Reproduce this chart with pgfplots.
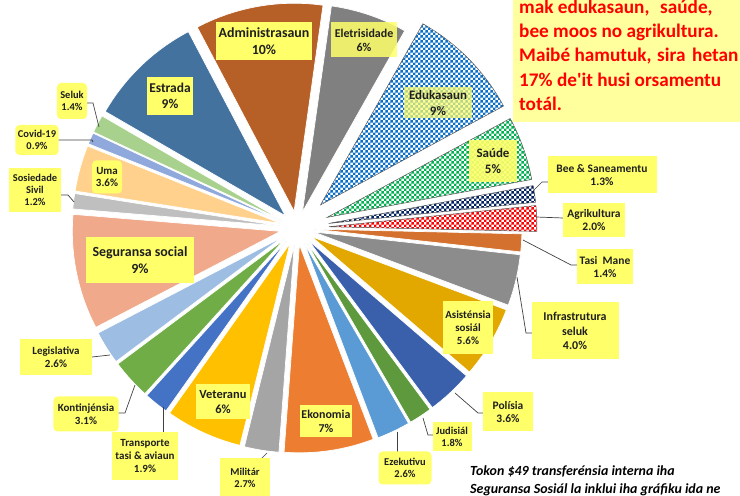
\documentclass[border=0pt]{standalone}
\usepackage{fontspec}
\setmainfont{Carlito}
\usepackage{pgfplots}
\pgfplotsset{compat=1.18}
\usetikzlibrary{patterns}

\definecolor{cEle}{HTML}{808080}
\definecolor{cEdu}{HTML}{0A6FC8}
\definecolor{cSau}{HTML}{00B050}
\definecolor{cBee}{HTML}{002060}
\definecolor{cAgr}{HTML}{FF0000}
\definecolor{cTas}{HTML}{D4712E}
\definecolor{cInf}{HTML}{8C8C8C}
\definecolor{cAsi}{HTML}{E2A800}
\definecolor{cPol}{HTML}{3A60AC}
\definecolor{cJud}{HTML}{5F993D}
\definecolor{cEze}{HTML}{5B9BD5}
\definecolor{cEko}{HTML}{ED7D31}
\definecolor{cMil}{HTML}{A5A5A5}
\definecolor{cVet}{HTML}{FFC000}
\definecolor{cTra}{HTML}{4472C4}
\definecolor{cKon}{HTML}{70AD47}
\definecolor{cLeg}{HTML}{9DBDE2}
\definecolor{cSeg}{HTML}{F0A98B}
\definecolor{cSos}{HTML}{BFBFBF}
\definecolor{cUma}{HTML}{FFD18C}
\definecolor{cCov}{HTML}{8FA9DC}
\definecolor{cSel}{HTML}{A9D18E}
\definecolor{cEst}{HTML}{43729F}
\definecolor{cAdm}{HTML}{B65F26}
\definecolor{labY}{HTML}{FFFF6A}
\definecolor{boxY}{HTML}{FFFF9E}
\definecolor{lead}{HTML}{404040}

\pgfdeclarepatternformonly{chk}{\pgfpoint{0bp}{0bp}}{\pgfpoint{5.4bp}{5.4bp}}{\pgfpoint{5.4bp}{5.4bp}}{%
  \pgfpathrectangle{\pgfpoint{0bp}{0bp}}{\pgfpoint{2.7bp}{2.7bp}}%
  \pgfpathrectangle{\pgfpoint{2.7bp}{2.7bp}}{\pgfpoint{2.7bp}{2.7bp}}%
  \pgfusepath{fill}}

% ---- pie slices: value (percent), style, explode (bp)
\def\piecum{0}
\def\pietotal{100.7}
\def\pieoff{8}
\pgfmathsetmacro\pieK{360/\pietotal}
\def\allslices{}
\newcommand\slice[3]{%
  \pgfmathsetmacro\phia{90-\pieoff-\pieK*\piecum}%
  \pgfmathsetmacro\phib{\phia-\pieK*#1}%
  \pgfmathsetmacro\phim{(\phia+\phib)/2}%
  \xdef\allslices{\unexpanded\expandafter{\allslices}\noexpand\path[#2] (axis cs:297,-228) ++(\phim:#3bp) -- ++(\phia:208bp) arc[start angle=\phia, end angle=\phib, radius=208bp] -- cycle;}%
  \pgfmathsetmacro\newcum{\piecum+#1}%
  \global\let\piecum\newcum}
\newcommand\pslice[3]{\slice{#1}{fill=#2, draw=white, line width=0.7bp}{#3}}
\newcommand\cslice[3]{\slice{#1}{preaction={fill=white}, pattern=chk, pattern color=#2, draw=gray!70!black, line width=0.5bp}{#3}}

\pslice{6}{cEle}{17}%   Eletrisidade
\cslice{9}{cEdu}{33}%  Edukasaun
\cslice{5}{cSau}{32}%  Saude
\cslice{1.3}{cBee}{32}% Bee
\cslice{2.0}{cAgr}{32}% Agrikultura
\pslice{1.4}{cTas}{17}% Tasi Mane
\pslice{4.0}{cInf}{17}% Infrastrutura seluk
\pslice{5.6}{cAsi}{17}% Asistensia
\pslice{3.6}{cPol}{17}% Polisia
\pslice{1.8}{cJud}{17}% Judisial
\pslice{2.6}{cEze}{17}% Ezekutivu
\pslice{7}{cEko}{17}%   Ekonomia
\pslice{2.7}{cMil}{17}% Militar
\pslice{6}{cVet}{17}%   Veteranu
\pslice{1.9}{cTra}{17}% Transporte
\pslice{3.1}{cKon}{17}% Kontinjensia
\pslice{2.6}{cLeg}{17}% Legislativa
\pslice{9}{cSeg}{17}%   Seguransa social
\pslice{1.2}{cSos}{17}% Sosiedade Sivil
\pslice{3.6}{cUma}{17}% Uma
\pslice{0.9}{cCov}{17}% Covid-19
\pslice{1.4}{cSel}{17}% Seluk
\pslice{9}{cEst}{17}%   Estrada
\pslice{10}{cAdm}{17}%  Administrasaun

\tikzset{lab/.style={fill=labY, align=center, inner sep=0pt, text=black!88}}
% \lbl[opts]{x}{y}{w}{h}{size}{text}
\newcommand\lbl[7][]{\node[lab, minimum width=#4bp, minimum height=#5bp, font={\bfseries\fontsize{#6}{#6}\selectfont\baselineskip=1.18\baselineskip}, #1] at (axis cs:#2,-#3) {#7};}

\begin{document}
\begin{tikzpicture}
\useasboundingbox (0,0) rectangle (740bp,496bp);
\clip (0,0) rectangle (740bp,496bp);
\begin{axis}[at={(0,0)}, anchor=south west, scale only axis, width=740bp, height=496bp,
  xmin=0, xmax=740, ymin=-496, ymax=0, axis lines=none, clip=false]
\allslices

% leader lines
\draw[lead, line width=0.7bp] (533,-191) -- (542,-182) -- (548,-182);
\draw[lead, line width=0.7bp] (536,-217) -- (563,-218);
\draw[lead, line width=0.7bp] (523,-240) -- (571,-265) -- (577,-265);
\draw[lead, line width=0.7bp] (517,-277) -- (526,-333) -- (532,-333);
\draw[lead, line width=0.7bp] (455,-393) -- (478,-413) -- (483,-413);
\draw[lead, line width=0.7bp] (423,-418) -- (428,-435) -- (433,-435);
\draw[lead, line width=0.7bp] (397,-432) -- (397,-452);
\draw[lead, line width=0.7bp] (267,-453) -- (260,-460);
\draw[lead, line width=0.7bp] (163,-407) -- (163,-432);
\draw[lead, line width=0.7bp] (135,-385) -- (125,-413) -- (118,-413);
\draw[lead, line width=0.7bp] (92,-357) -- (110,-355);
\draw[lead, line width=0.7bp] (61,-195) -- (68,-195) -- (74,-202);
\draw[lead, line width=0.7bp] (58,-140) -- (92,-140) -- (93,-142);
\draw[lead, line width=0.7bp] (87,-103) -- (93,-103) -- (99,-127);

% labels
\lbl{264}{41}{95}{38}{14}{Administrasaun\\10\%}
\lbl[fill opacity=0.85, text opacity=1]{364}{40}{66}{35}{12}{Eletrisidade\\6\%}
\lbl[fill opacity=0.7, text opacity=1]{438}{103}{68}{31}{13}{Edukasaun\\9\%}
\lbl[fill opacity=0.9, text opacity=1]{493}{161}{48}{42}{13}{Saúde\\5\%}
\lbl{602}{175}{109}{37}{11.5}{Bee \& Saneamentu\\1.3\%}
\lbl{594}{220}{62}{34}{11.5}{Agrikultura\\2.0\%}
\lbl{605}{267}{56}{35}{11.5}{Tasi~ Mane\\1.4\%}
\lbl{575}{331}{87}{57}{12}{Infrastrutura\\seluk\\4.0\%}
\lbl{468}{328}{50}{53}{11}{Asisténsia\\sosiál\\5.6\%}
\lbl{508}{412}{50}{39}{11.5}{Polísia\\3.6\%}
\lbl{452}{437}{39}{29}{10.5}{Judisiál\\1.8\%}
\lbl[rounded corners=4bp]{405}{468}{53}{33}{10.5}{Ezekutivu\\2.6\%}
\lbl{326}{421}{52}{32}{12}{Ekonomia\\7\%}
\lbl{245}{478}{50}{40}{10.5}{Militár\\2.7\%}
\lbl{223}{402}{53}{35}{12.5}{Veteranu\\6\%}
\lbl{145}{456}{66}{48}{11}{Transporte\\tasi \& aviaun\\1.9\%}
\lbl[rounded corners=4bp]{86}{414}{65}{35}{11}{Kontinjénsia\\3.1\%}
\lbl{56}{357}{72}{36}{11}{Legislativa\\2.6\%}
\lbl{140}{260}{107}{46}{14}{Seguransa social\\9\%}
\lbl{35}{190}{52}{44}{10.5}{Sosiedade\\Sivil\\1.2\%}
\lbl[rounded corners=4bp]{107}{177}{30}{33}{11}{Uma\\3.6\%}
\lbl[rounded corners=4bp]{37}{140}{43}{30}{10.5}{Covid-19\\0.9\%}
\lbl[rounded corners=4bp]{72}{101}{30}{36}{10.5}{Seluk\\1.4\%}
\lbl{170}{96}{46}{38}{13.5}{Estrada\\9\%}

% red message box
\fill[boxY] (513,-122) rectangle (750,5);
\begin{scope}[every node/.style={anchor=base west, inner sep=0pt, text=red, font=\bfseries\fontsize{19.3}{24}\selectfont}]
\node at (519,-14) {mak edukasaun,};
\node at (660,-14) {saúde,};
\node at (519,-38) {bee moos no agrikultura.};
\node at (519,-62) {Maibé hamutuk,};
\node at (657,-62) {sira};
\node at (692,-62) {hetan};
\node at (519,-86.5) {17\% de\textquotesingle it husi orsamentu};
\node at (519,-110.5) {totál.};
\end{scope}

% note
\begin{scope}[every node/.style={anchor=base west, inner sep=0pt, text=black, font=\bfseries\itshape\fontsize{14}{17}\selectfont}]
\node at (470,-475) {Tokon \$49 transferénsia interna iha};
\node at (470,-493) {Seguransa Sosiál la inklui iha gráfiku ida ne};
\end{scope}
\end{axis}
\end{tikzpicture}
\end{document}
